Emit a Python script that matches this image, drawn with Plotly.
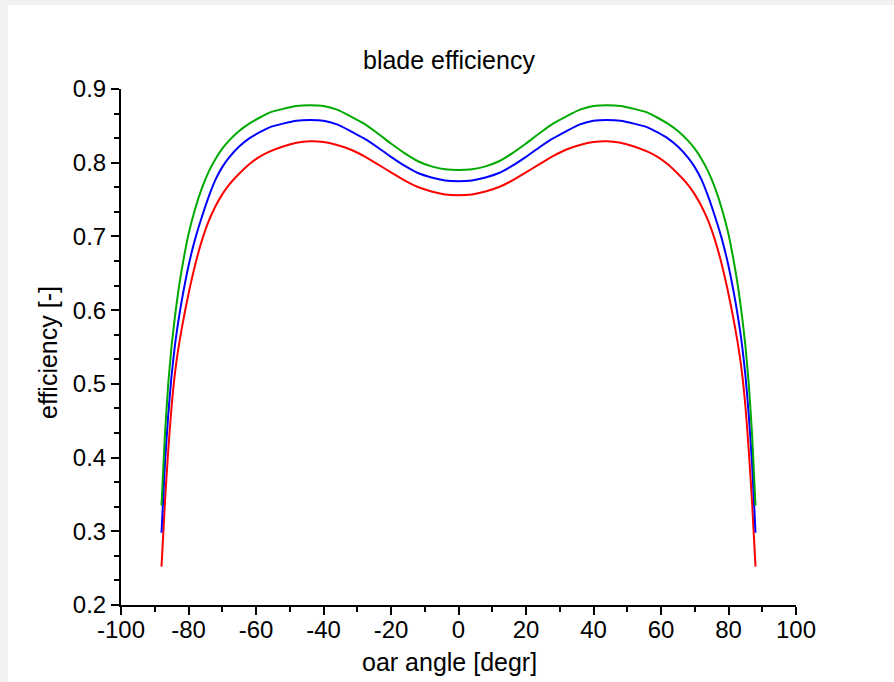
import plotly.graph_objects as go

# oar angle [degr]
angle = [-88, -87, -86, -85, -84, -83, -82, -80, -78, -76, -74, -72, -70, -68, -65, -62, -59, -56, -52, -48, -44,
         -40, -36, -32, -28, -24, -20, -16, -12, -8, -4, 0,
         4, 8, 12, 16, 20, 24, 28, 32, 36, 40,
         44, 48, 52, 56, 59, 62, 65, 68, 70, 72, 74, 76, 78, 80, 82, 83, 84, 85, 86, 87, 88]

eff_green = [0.335, 0.430, 0.500, 0.552, 0.592, 0.626, 0.655, 0.703, 0.738, 0.766, 0.788, 0.805, 0.819, 0.830,
             0.843, 0.853, 0.861, 0.868, 0.873, 0.877, 0.878,
             0.877, 0.872, 0.863, 0.853, 0.840, 0.826, 0.813, 0.802, 0.795, 0.791, 0.790,
             0.791, 0.795, 0.802, 0.813, 0.826, 0.840, 0.853, 0.863, 0.872, 0.877,
             0.878, 0.877, 0.873, 0.868, 0.861, 0.853, 0.843, 0.830, 0.819, 0.805, 0.788, 0.766, 0.738, 0.703,
             0.655, 0.626, 0.592, 0.552, 0.500, 0.430, 0.335]

eff_blue = [0.298, 0.390, 0.458, 0.512, 0.553, 0.585, 0.613, 0.660, 0.697, 0.727, 0.754, 0.777, 0.794, 0.807,
            0.822, 0.833, 0.841, 0.848, 0.853, 0.857, 0.858,
            0.857, 0.852, 0.843, 0.833, 0.821, 0.808, 0.796, 0.786, 0.780, 0.776, 0.775,
            0.776, 0.780, 0.786, 0.796, 0.808, 0.821, 0.833, 0.843, 0.852, 0.857,
            0.858, 0.857, 0.853, 0.848, 0.841, 0.833, 0.822, 0.807, 0.794, 0.777, 0.754, 0.727, 0.697, 0.660,
            0.613, 0.585, 0.553, 0.512, 0.458, 0.390, 0.298]

eff_red = [0.252, 0.338, 0.410, 0.470, 0.515, 0.548, 0.575, 0.622, 0.662, 0.695, 0.721, 0.741, 0.757, 0.770,
           0.785, 0.798, 0.808, 0.815, 0.822, 0.827, 0.829,
           0.828, 0.824, 0.818, 0.809, 0.798, 0.787, 0.776, 0.767, 0.761, 0.757, 0.756,
           0.757, 0.761, 0.767, 0.776, 0.787, 0.798, 0.809, 0.818, 0.824, 0.828,
           0.829, 0.827, 0.822, 0.815, 0.808, 0.798, 0.785, 0.770, 0.757, 0.741, 0.721, 0.695, 0.662, 0.622,
           0.575, 0.548, 0.515, 0.470, 0.410, 0.338, 0.252]

x_ticks = [-100, -80, -60, -40, -20, 0, 20, 40, 60, 80, 100]
x_tick_text = ["-100", "-80", "-60", "-40", "-20", "0", "20", "40", "60", "80", "100"]
x_minor = [-90, -70, -50, -30, -10, 10, 30, 50, 70, 90]
y_ticks = [0.2, 0.3, 0.4, 0.5, 0.6, 0.7, 0.8, 0.9]
y_tick_text = ["0.2", "0.3", "0.4", "0.5", "0.6", "0.7", "0.8", "0.9"]
y_minor = [0.2 + k / 30 for k in range(22) if k % 3 != 0]

FONT = "Liberation Sans, Arial, sans-serif"

fig = go.Figure()
for vals, col in [(eff_red, "#ff0000"), (eff_blue, "#0000ff"), (eff_green, "#00aa00")]:
    fig.add_trace(go.Scatter(x=angle, y=vals, mode="lines",
                             line=dict(color=col, width=2, shape="spline", smoothing=0.6),
                             showlegend=False, hoverinfo="skip"))

L, R, T, B = 121, 98, 89, 77
W, H = 894, 682
pw, ph = W - L - R, H - T - B

def px(xp):
    return (xp - L) / pw

def py(yp):
    return (H - B - yp) / ph

axis_common = dict(showline=True, linecolor="black", linewidth=2, showgrid=False, zeroline=False,
                   ticks="outside", tickcolor="black", tickwidth=2, ticklen=8,
                   tickfont=dict(family=FONT, size=24, color="black"))

fig.update_layout(
    width=W, height=H,
    margin=dict(l=L, r=R, t=T, b=B),
    paper_bgcolor="#f2f2f2",
    plot_bgcolor="white",
    xaxis=dict(range=[-100, 100], tickmode="array", tickvals=x_ticks, ticktext=x_tick_text,
               ticklabelstandoff=-6,
               minor=dict(tickmode="array", tickvals=x_minor, ticks="outside", ticklen=5,
                          tickcolor="black", tickwidth=2, showgrid=False),
               **axis_common),
    yaxis=dict(range=[0.2, 0.9], tickmode="array", tickvals=y_ticks, ticktext=y_tick_text,
               minor=dict(tickmode="array", tickvals=y_minor, ticks="outside", ticklen=5,
                          tickcolor="black", tickwidth=2, showgrid=False),
               **axis_common),
    shapes=[dict(type="rect", xref="paper", yref="paper", x0=px(8), x1=px(W + 10),
                 y0=py(H + 10), y1=py(5), fillcolor="white", line=dict(width=0), layer="below")],
    annotations=[
        dict(text="blade efficiency", xref="paper", yref="paper", x=px(449), y=py(60),
             xanchor="center", yanchor="middle", showarrow=False,
             font=dict(family=FONT, size=25, color="black")),
        dict(text="oar angle [degr]", xref="paper", yref="paper", x=px(449), y=py(662),
             xanchor="center", yanchor="middle", showarrow=False,
             font=dict(family=FONT, size=25, color="black")),
        dict(text="efficiency [-]", xref="paper", yref="paper", x=px(48), y=py(353),
             xanchor="center", yanchor="middle", showarrow=False, textangle=-90,
             font=dict(family=FONT, size=25, color="black")),
    ],
)

fig.write_html("out.html", config={"displayModeBar": False},
               post_script="document.body.style.margin='0';document.body.style.overflow='hidden';"
                           "document.body.style.background='#f2f2f2';")
